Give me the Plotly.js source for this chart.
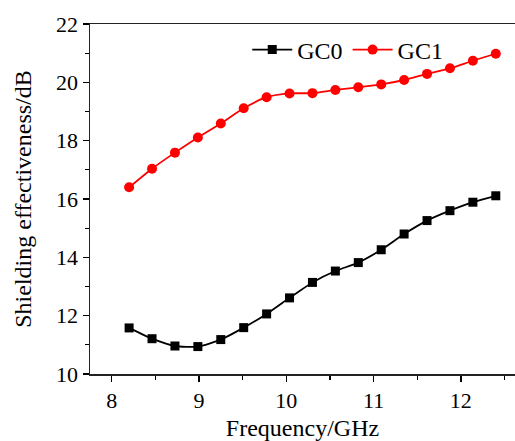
<!DOCTYPE html>
<html>
<head>
<meta charset="utf-8">
<script src="https://cdn.plot.ly/plotly-3.0.1.min.js"></script>
<style>html,body{margin:0;padding:0;background:#fff;}#chart{width:515px;height:441px;}</style>
</head>
<body>
<div id="chart"></div>
<script>
const frequency = [8.2, 8.4625, 8.725, 8.9875, 9.25, 9.5125, 9.775, 10.0375, 10.3, 10.5625, 10.825, 11.0875, 11.35, 11.6125, 11.875, 12.1375, 12.4];
const gc0 = [11.58, 11.21, 10.96, 10.94, 11.18, 11.59, 12.06, 12.61, 13.14, 13.53, 13.82, 14.26, 14.80, 15.26, 15.60, 15.89, 16.11];
const gc1 = [16.40, 17.04, 17.59, 18.11, 18.59, 19.11, 19.49, 19.62, 19.63, 19.74, 19.83, 19.93, 20.08, 20.29, 20.48, 20.74, 20.98];
const seriesNames = ["GC0", "GC1"];
const xTicks = [8, 9, 10, 11, 12];
const yTicks = [10, 12, 14, 16, 18, 20, 22];

const fam = "Liberation Serif, Times New Roman, serif";

const traces = [
  {x: frequency, y: gc0, name: seriesNames[0], type: "scatter", mode: "lines+markers",
   line: {color: "#000", width: 1.8, shape: "spline", smoothing: 0.6},
   marker: {symbol: "square", size: 9, color: "#000"}},
  {x: frequency, y: gc1, name: seriesNames[1], type: "scatter", mode: "lines+markers",
   line: {color: "#ff0000", width: 1.8, shape: "spline", smoothing: 0.6},
   marker: {symbol: "circle", size: 10, color: "#ff0000"}}
];

const layout = {
  width: 515, height: 441,
  margin: {l: 90, r: 0, t: 24, b: 67},
  paper_bgcolor: "#fff", plot_bgcolor: "#fff",
  font: {family: fam, color: "#000", size: 22},
  showlegend: true,
  legend: {orientation: "h", x: 0.37, y: 0.99, xanchor: "left", yanchor: "top",
           font: {family: fam, size: 24, color: "#000"}, bgcolor: "rgba(0,0,0,0)",
           itemwidth: 40, tracegroupgap: 0},
  xaxis: {
    range: [7.752, 12.62], tickvals: xTicks, ticktext: xTicks.map(String),
    ticks: "outside", ticklen: 6, tickwidth: 1.3, tickcolor: "#000",
    minor: {dtick: 0.5, tick0: 7.5, ticks: "outside", ticklen: 4, tickwidth: 1.3, tickcolor: "#000", showgrid: false},
    showline: true, linecolor: "#222", linewidth: 1.5, mirror: true,
    showgrid: false, zeroline: false,
    tickfont: {family: fam, size: 22, color: "#000"},
    title: {text: "Frequency/GHz", font: {family: fam, size: 24, color: "#000"}, standoff: 9}
  },
  yaxis: {
    range: [10, 22], tickvals: yTicks, ticktext: yTicks.map(String),
    ticks: "outside", ticklen: 6, tickwidth: 1.3, tickcolor: "#000",
    minor: {dtick: 1, tick0: 10, ticks: "outside", ticklen: 4, tickwidth: 1.3, tickcolor: "#000", showgrid: false},
    showline: true, linecolor: "#222", linewidth: 1.5, mirror: false,
    showgrid: false, zeroline: false,
    tickfont: {family: fam, size: 22, color: "#000"},
    title: {text: "Shielding effectiveness/dB", font: {family: fam, size: 24, color: "#000"}, standoff: 17}
  }
};

Plotly.newPlot("chart", traces, layout, {staticPlot: true, displayModeBar: false});
</script>
</body>
</html>
